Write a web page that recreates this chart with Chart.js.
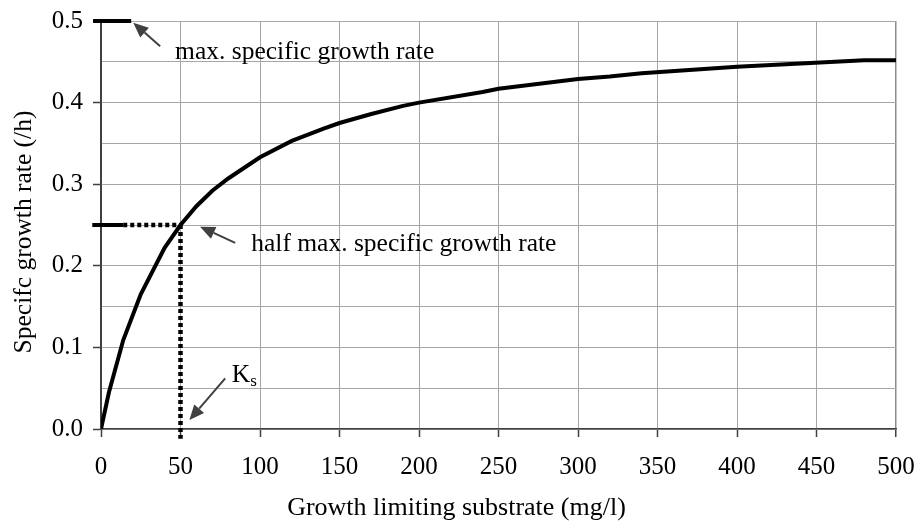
<!DOCTYPE html>
<html>
<head>
<meta charset="utf-8">
<script src="https://cdn.jsdelivr.net/npm/chart.js@4/dist/chart.umd.min.js"></script>
<style>
  html, body { margin: 0; padding: 0; background: #fff; }
  #wrap { width: 919px; height: 528px; position: relative; }
</style>
</head>
<body>
<div id="wrap"><canvas id="c"></canvas></div>
<script>
// Substrate concentration (mg/l) and specific growth rate (/h) of the Monod curve
const substrate = [0, 5, 14, 25, 40, 50, 60, 70, 80, 100, 120, 140, 150, 170, 190, 200, 240, 250, 300, 320, 340, 400, 480, 500];
const growthRate = [0, 0.045, 0.109, 0.165, 0.222, 0.25, 0.273, 0.292, 0.307, 0.333, 0.353, 0.368, 0.375, 0.386, 0.396, 0.4, 0.413, 0.417, 0.429, 0.432, 0.436, 0.444, 0.452, 0.452];

// Reference marks: maximum rate, half maximum rate and the half-saturation constant Ks
const muMax = 0.5;
const halfMu = 0.25;
const Ks = 50;
const maxMarkX = [-5, 19];
const halfSolidX = [-5.5, 14];
const halfDottedX = [14, Ks];
const ksDropY = [halfMu, -0.012];

// Axis ticks and titles
const xTicks = [0, 50, 100, 150, 200, 250, 300, 350, 400, 450, 500];
const yLabels = ['0.0', '0.1', '0.2', '0.3', '0.4', '0.5'];
const xTitle = 'Growth limiting substrate (mg/l)';
const yTitle = 'Specifc growth rate (/h)';

const FONT = '"Liberation Serif", "Times New Roman", serif';
const AXIS = '#404040';
const GRID = '#a6a6a6';

const pts = (xs, ys) => xs.map((x, i) => ({ x, y: ys[i] }));

// Arrows, captions and axis titles
const annotations = {
  id: 'annotations',
  afterDatasetsDraw(chart) {
    const { ctx, scales: { x, y } } = chart;
    const px = v => x.getPixelForValue(v);
    const py = v => y.getPixelForValue(v);

    function arrow(x0, y0, x1, y1) {
      const X0 = px(x0), Y0 = py(y0), X1 = px(x1), Y1 = py(y1);
      const a = Math.atan2(Y1 - Y0, X1 - X0);
      const head = 15, wing = 6.5;
      const bx = X1 - head * Math.cos(a), by = Y1 - head * Math.sin(a);
      ctx.save();
      ctx.strokeStyle = AXIS;
      ctx.fillStyle = AXIS;
      ctx.lineWidth = 2;
      ctx.beginPath();
      ctx.moveTo(X0, Y0);
      ctx.lineTo(bx, by);
      ctx.stroke();
      ctx.beginPath();
      ctx.moveTo(X1, Y1);
      ctx.lineTo(bx + wing * Math.sin(a), by - wing * Math.cos(a));
      ctx.lineTo(bx - wing * Math.sin(a), by + wing * Math.cos(a));
      ctx.closePath();
      ctx.fill();
      ctx.restore();
    }

    function text(str, xv, yv, size) {
      ctx.save();
      ctx.font = size + 'px ' + FONT;
      ctx.fillStyle = '#000';
      ctx.textAlign = 'left';
      ctx.textBaseline = 'middle';
      ctx.fillText(str, px(xv), py(yv));
      const w = ctx.measureText(str).width;
      ctx.restore();
      return w;
    }

    arrow(37.2, 0.469, 20.3, 0.498);
    text('max. specific growth rate', 46.6, 0.462, 25.5);

    arrow(84.4, 0.228, 62.3, 0.248);
    text('half max. specific growth rate', 94.5, 0.226, 25.5);

    arrow(78.1, 0.062, 55.6, 0.011);
    const kw = text('K', 82.3, 0.066, 25.5);
    ctx.save();
    ctx.font = '17px ' + FONT;
    ctx.fillStyle = '#000';
    ctx.textBaseline = 'middle';
    ctx.fillText('s', px(82.3) + kw, py(0.066) + 6);
    ctx.restore();

    // Axis titles, centred on the whole figure
    ctx.save();
    ctx.fillStyle = '#000';
    ctx.textAlign = 'center';
    ctx.textBaseline = 'middle';
    ctx.font = '26px ' + FONT;
    ctx.fillText(xTitle, chart.width / 2 - 3, 508);
    ctx.translate(24, (chart.chartArea.top + chart.chartArea.bottom) / 2 + 7);
    ctx.rotate(-Math.PI / 2);
    ctx.font = '25.5px ' + FONT;
    ctx.fillText(yTitle, 0, 0);
    ctx.restore();
  }
};

new Chart(document.getElementById('c'), {
  type: 'scatter',
  data: {
    datasets: [
      {
        label: 'Specific growth rate',
        data: pts(substrate, growthRate),
        showLine: true,
        borderColor: '#000',
        borderWidth: 4,
        pointRadius: 0,
        tension: 0
      },
      {
        label: 'max',
        data: pts(maxMarkX, [muMax, muMax]),
        showLine: true,
        borderColor: '#000',
        borderWidth: 4,
        pointRadius: 0,
        clip: false
      },
      {
        label: 'half max solid',
        data: pts(halfSolidX, [halfMu, halfMu]),
        showLine: true,
        borderColor: '#000',
        borderWidth: 4,
        pointRadius: 0,
        clip: false
      },
      {
        label: 'half max dotted',
        data: pts(halfDottedX, [halfMu, halfMu]),
        showLine: true,
        borderColor: '#000',
        borderWidth: 4.5,
        borderDash: [4, 3],
        pointRadius: 0,
        clip: false
      },
      {
        label: 'Ks',
        data: pts([Ks, Ks], ksDropY),
        showLine: true,
        borderColor: '#000',
        borderWidth: 4.5,
        borderDash: [4, 3],
        pointRadius: 0,
        clip: false
      }
    ]
  },
  options: {
    responsive: true,
    maintainAspectRatio: false,
    animation: false,
    layout: { padding: { top: 21, right: 23, left: 0, bottom: 0 } },
    plugins: { legend: { display: false }, tooltip: { enabled: false } },
    scales: {
      x: {
        type: 'linear',
        min: 0,
        max: 500,
        afterBuildTicks: s => { s.ticks = xTicks.map(v => ({ value: v })); },
        afterFit: s => { s.height = 99; s.paddingLeft = 0; s.paddingRight = 0; },
        border: { color: AXIS, width: 1.5 },
        grid: {
          color: ctx => ctx.tick && ctx.tick.value === 0 ? AXIS : (ctx.tick && ctx.tick.value === 500 ? '#8c8c8c' : GRID),
          lineWidth: ctx => ctx.tick && ctx.tick.value === 500 ? 1.5 : 1,
          tickColor: AXIS,
          tickLength: 8,
          tickWidth: 1.5
        },
        ticks: {
          color: '#000',
          font: { family: FONT, size: 25 },
          padding: 15,
          maxRotation: 0,
          callback: v => String(v)
        }
      },
      y: {
        type: 'linear',
        min: 0,
        max: 0.5,
        afterBuildTicks: s => {
          const t = [];
          for (let i = 0; i <= 10; i++) t.push({ value: i * 0.05 });
          s.ticks = t;
        },
        afterFit: s => { s.width = 101; s.paddingTop = 0; s.paddingBottom = 0; },
        border: { color: AXIS, width: 1.5 },
        grid: {
          color: GRID,
          lineWidth: 1,
          tickColor: ctx => (ctx.index % 2 === 0 ? AXIS : 'rgba(0,0,0,0)'),
          tickLength: 8,
          tickWidth: 1.5
        },
        ticks: {
          color: '#000',
          font: { family: FONT, size: 25 },
          padding: 10,
          callback: (v, i) => (i % 2 === 0 ? yLabels[i / 2] : '')
        }
      }
    }
  },
  plugins: [annotations]
});
</script>
</body>
</html>
